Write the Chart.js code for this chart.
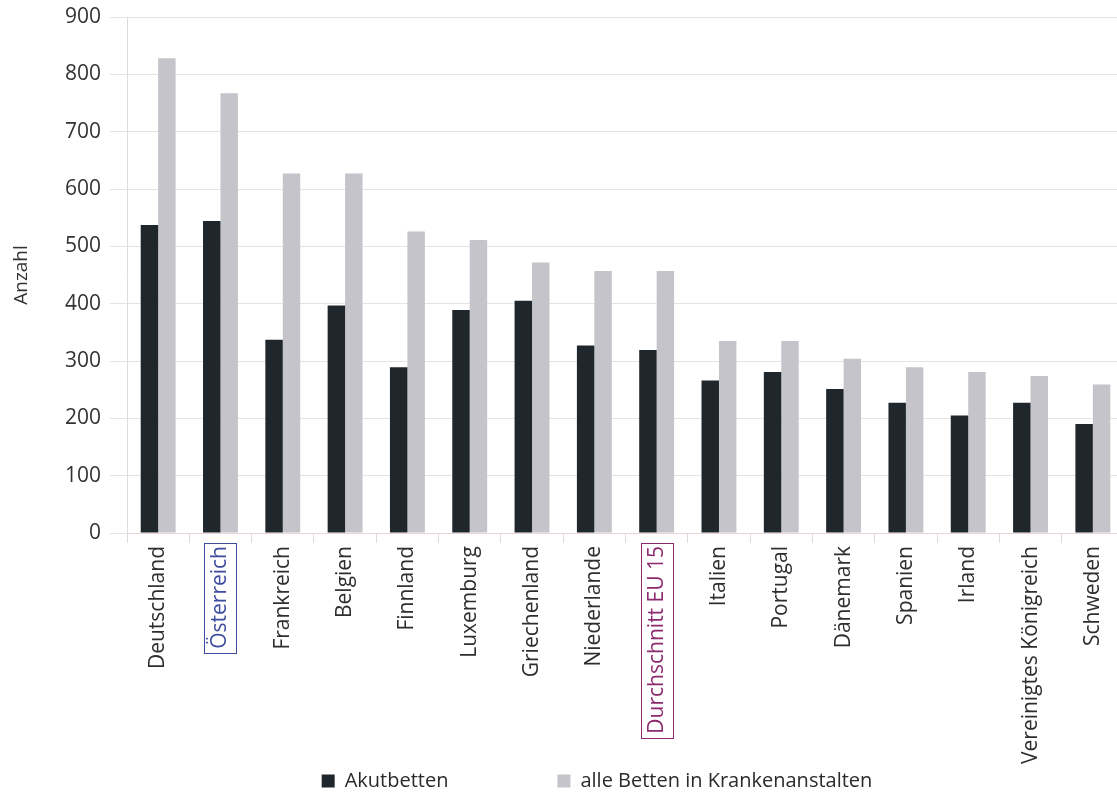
<!DOCTYPE html>
<html><head><meta charset="utf-8">
<script src="https://cdn.jsdelivr.net/npm/chart.js@4.4.1/dist/chart.umd.min.js"></script>
<style>
html,body{margin:0;padding:0;overflow:hidden;background:#ffffff;}
#wrap{width:1126px;height:796px;position:relative;}
</style></head><body>
<div id="wrap"><canvas id="c"></canvas></div>
<script>
const categories = ['Deutschland','Österreich','Frankreich','Belgien','Finnland','Luxemburg','Griechenland','Niederlande','Durchschnitt EU 15','Italien','Portugal','Dänemark','Spanien','Irland','Vereinigtes Königreich','Schweden'];
const akutbetten = [537, 544, 337, 397, 289, 389, 405, 327, 319, 266, 281, 251, 227, 205, 227, 190];
const alleBetten = [828, 767, 627, 627, 526, 511, 472, 457, 457, 335, 335, 304, 289, 281, 274, 259];
const yTickValues = [0, 100, 200, 300, 400, 500, 600, 700, 800, 900];
const seriesNames = ['Akutbetten', 'alle Betten in Krankenanstalten'];
const yTitle = 'Anzahl';
const highlightColors = {1: '#3d4c9e', 8: '#8c2a70'};

const FONT = "'Open Sans', 'DejaVu Sans', sans-serif";
const LABEL_SIZE = 21;
const LEGEND_SIZE = 20;
const LEGEND_PAD = 109;
const PLOT_TOP = 17;
const PLOT_BOTTOM = 533;
const LEGEND_TEXT_Y = 781;
const PAD_BOTTOM = -140;

const boxPlugin = {
  id: 'labelBoxes',
  afterDraw(chart) {
    const sc = chart.scales.x;
    const ctx = chart.ctx;
    ctx.save();
    ctx.font = LABEL_SIZE + 'px ' + FONT;
    const top = sc.top + sc.options.grid.tickLength + sc.options.ticks.padding;
    Object.keys(highlightColors).forEach(k => {
      const i = +k;
      const x = sc.getPixelForTick(i);
      const w = ctx.measureText(categories[i]).width;
      ctx.strokeStyle = highlightColors[i];
      ctx.lineWidth = 1;
      ctx.strokeRect(Math.round(x - 16) + 0.5, Math.round(top - 3) + 0.5, 32, Math.round(w + 7));
    });
    ctx.restore();
  }
};

const legendShift = {
  id: 'legendShift',
  afterLayout(chart) {
    const lg = chart.legend;
    lg.left += 32;
    lg.right += 32;
    const h = lg.bottom - lg.top;
    lg.top = LEGEND_TEXT_Y - LEGEND_PAD - LEGEND_SIZE / 2;
    lg.bottom = lg.top + h;
  }
};

new Chart(document.getElementById('c'), {
  type: 'bar',
  data: {
    labels: categories,
    datasets: [
      {label: seriesNames[0], data: akutbetten, backgroundColor: '#1f272d', categoryPercentage: 0.56, barPercentage: 1.0},
      {label: seriesNames[1], data: alleBetten, backgroundColor: '#c4c4ca', categoryPercentage: 0.56, barPercentage: 1.0}
    ]
  },
  options: {
    responsive: true,
    maintainAspectRatio: false,
    animation: false,
    layout: {padding: {top: 0, left: 6, right: 2, bottom: PAD_BOTTOM}},
    plugins: {
      legend: {
        position: 'bottom',
        labels: {
          boxWidth: 13, boxHeight: 13, padding: LEGEND_PAD,
          color: '#2b2b2b',
          font: {family: FONT, size: LEGEND_SIZE}
        }
      },
      tooltip: {enabled: false}
    },
    scales: {
      x: {
        afterFit(scale) {
          const chart = scale.chart;
          const legendTop = chart.height - PAD_BOTTOM - chart.legend.height;
          scale.height = Math.max(10, legendTop - PLOT_BOTTOM);
        },
        grid: {display: true, drawOnChartArea: false, offset: true, tickLength: 10, color: '#dcdcdc'},
        border: {color: '#ead3d9', width: 1},
        ticks: {
          minRotation: 90, maxRotation: 90, padding: 3, autoSkip: false,
          color: categories.map((c, i) => highlightColors[i] || '#2e2e2e'),
          font: {family: FONT, size: LABEL_SIZE}
        }
      },
      y: {
        min: 0, max: 900,
        afterBuildTicks(scale) { scale.ticks = yTickValues.map(v => ({value: v})); },
        afterFit(scale) { scale.width = 121; scale.paddingTop = PLOT_TOP; scale.paddingBottom = 0; },
        grid: {color: '#e4e4e4', tickLength: 17},
        border: {color: '#dcdcdc'},
        ticks: {padding: 9, color: '#333333', font: {family: FONT, size: 21}},
        title: {display: true, text: yTitle, color: '#333333', font: {family: FONT, size: 19}, padding: {top: 4, bottom: 4}}
      }
    }
  },
  plugins: [boxPlugin, legendShift]
});
</script>
</body></html>
